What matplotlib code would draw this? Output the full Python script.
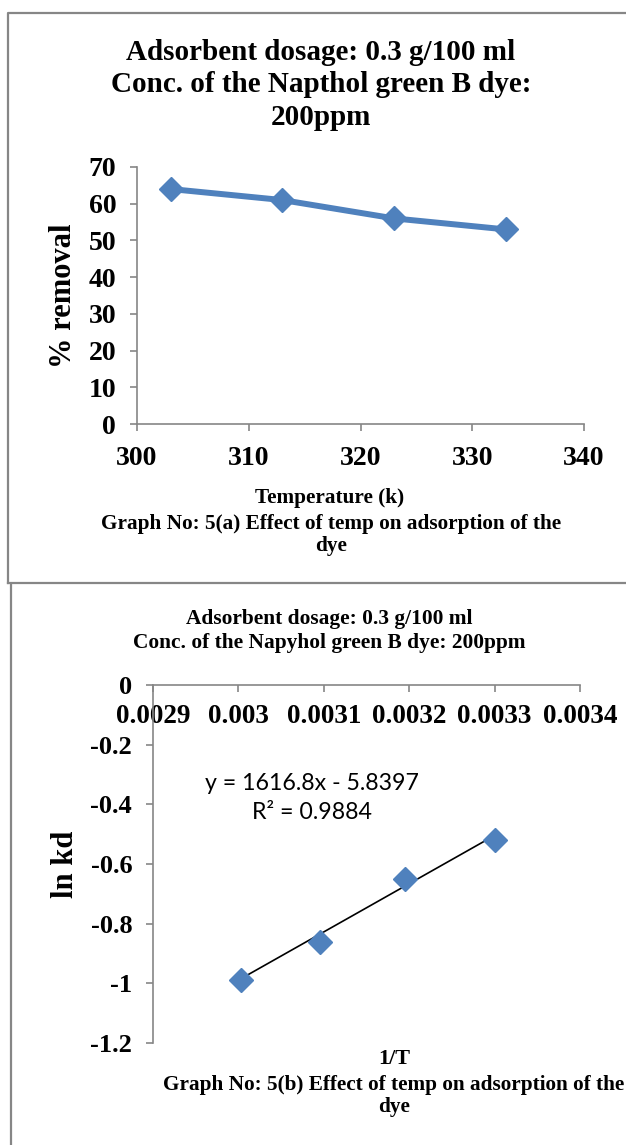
import matplotlib.pyplot as plt
from matplotlib.lines import Line2D
from matplotlib.ticker import FuncFormatter, MultipleLocator

W, H = 626, 1145

# panel (a): % removal against temperature
temps = [303, 313, 323, 333]
removal = [64, 61, 56, 53]

# panel (b): ln kd against 1/T
inv_t = [0.003003, 0.003096, 0.003195, 0.0033]
ln_kd = [-0.99, -0.86, -0.65, -0.52]
slope, intercept, r2 = 1616.8, -5.8397, 0.9884

BLUE = "#4F81BD"
GRAY = "#868686"
SERIF = "Liberation Serif"

plt.rcParams["font.family"] = SERIF
plt.rcParams["font.weight"] = "bold"


def fx(x):
    return x / W


def fy(y):
    return 1 - y / H


def frame_line(fig, xs, ys):
    fig.add_artist(Line2D([fx(x) for x in xs], [fy(y) for y in ys],
                          transform=fig.transFigure, color=GRAY, lw=1.6))


def style_axes(ax, size):
    for side in ("top", "right"):
        ax.spines[side].set_visible(False)
    for side in ("left", "bottom"):
        ax.spines[side].set_color(GRAY)
        ax.spines[side].set_linewidth(1.2)
    ax.tick_params(direction="out", length=5, width=1.2, color=GRAY,
                   labelsize=size, pad=10)
    for lab in ax.get_xticklabels() + ax.get_yticklabels():
        lab.set_fontweight("bold")


def ylabel_at(ax, text, right_px, left_px, width_px):
    ax.set_ylabel(text, fontsize=22, fontweight="bold")
    ax.yaxis.set_label_coords((right_px - left_px) / width_px, 0.5)


fig = plt.figure(figsize=(W / 100, H / 100), dpi=100)

# panel borders
frame_line(fig, [8, 8, 640], [583, 13, 13])
frame_line(fig, [8, 640], [583, 583])
frame_line(fig, [11, 11], [584, 1150])

# ---- top chart
ax1 = fig.add_axes([fx(137), fy(424), fx(584) - fx(137), fy(167) - fy(424)])
ax1.plot(temps, removal, color=BLUE, lw=4.3, marker="D", markersize=12,
         markerfacecolor=BLUE, markeredgecolor=BLUE, solid_joinstyle="round")
ax1.set_xlim(300, 340)
ax1.set_ylim(0, 70)
ax1.xaxis.set_major_locator(MultipleLocator(10))
ax1.yaxis.set_major_locator(MultipleLocator(10))
style_axes(ax1, 20)
ax1.tick_params(axis="x", pad=11)
ylabel_at(ax1, "% removal", 78, 137, 447)

fig.text(fx(321), fy(85), "Adsorbent dosage: 0.3 g/100 ml\nConc. of the Napthol green B dye:\n200ppm",
         ha="center", va="center", fontsize=21, fontweight="bold", linespacing=1.26)
fig.text(fx(330), fy(498), "Temperature (k)", ha="center", va="center",
         fontsize=15.3, fontweight="bold")
fig.text(fx(331), fy(535), "Graph No: 5(a) Effect of temp on adsorption of the\ndye",
         ha="center", va="center", fontsize=15.3, fontweight="bold", linespacing=1.1)

# ---- bottom chart
ax2 = fig.add_axes([fx(153), fy(1043), fx(580) - fx(153), fy(685) - fy(1043)])
ax2.plot(inv_t, ln_kd, linestyle="none", marker="D", markersize=12,
         markerfacecolor=BLUE, markeredgecolor=BLUE, zorder=3)
trend_x = [min(inv_t), max(inv_t)]
ax2.plot(trend_x, [slope * x + intercept for x in trend_x], color="black", lw=1.2, zorder=2)
ax2.set_xlim(0.0029, 0.0034)
ax2.set_ylim(-1.2, 0)
ax2.xaxis.set_major_locator(MultipleLocator(0.0001))
ax2.yaxis.set_major_locator(MultipleLocator(0.2))
fmt = FuncFormatter(lambda v, _: "%g" % round(v, 6))
ax2.xaxis.set_major_formatter(fmt)
ax2.yaxis.set_major_formatter(fmt)
ax2.spines["bottom"].set_position(("data", 0))
style_axes(ax2, 19)
ax2.tick_params(axis="x", labelsize=19.5, pad=9)
ylabel_at(ax2, "ln kd", 80, 153, 427)

ax2.text(0.003086, -0.378, f"y = {slope}x - {abs(intercept)}\nR² = {r2}", ha="center", va="center",
         fontsize=16.7, fontweight="normal", family=["Lato", "DejaVu Sans"], linespacing=1.45)

fig.text(fx(329), fy(631), "Adsorbent dosage: 0.3 g/100 ml\nConc. of the Napyhol green B dye: 200ppm",
         ha="center", va="center", fontsize=15.4, fontweight="bold", linespacing=1.25)
fig.text(fx(394), fy(1059), "1/T", ha="center", va="center", fontsize=16, fontweight="bold")
fig.text(fx(394), fy(1096), "Graph No: 5(b) Effect of temp on adsorption of the\ndye",
         ha="center", va="center", fontsize=15.3, fontweight="bold", linespacing=1.1)

fig.savefig("out.png", dpi=100)
